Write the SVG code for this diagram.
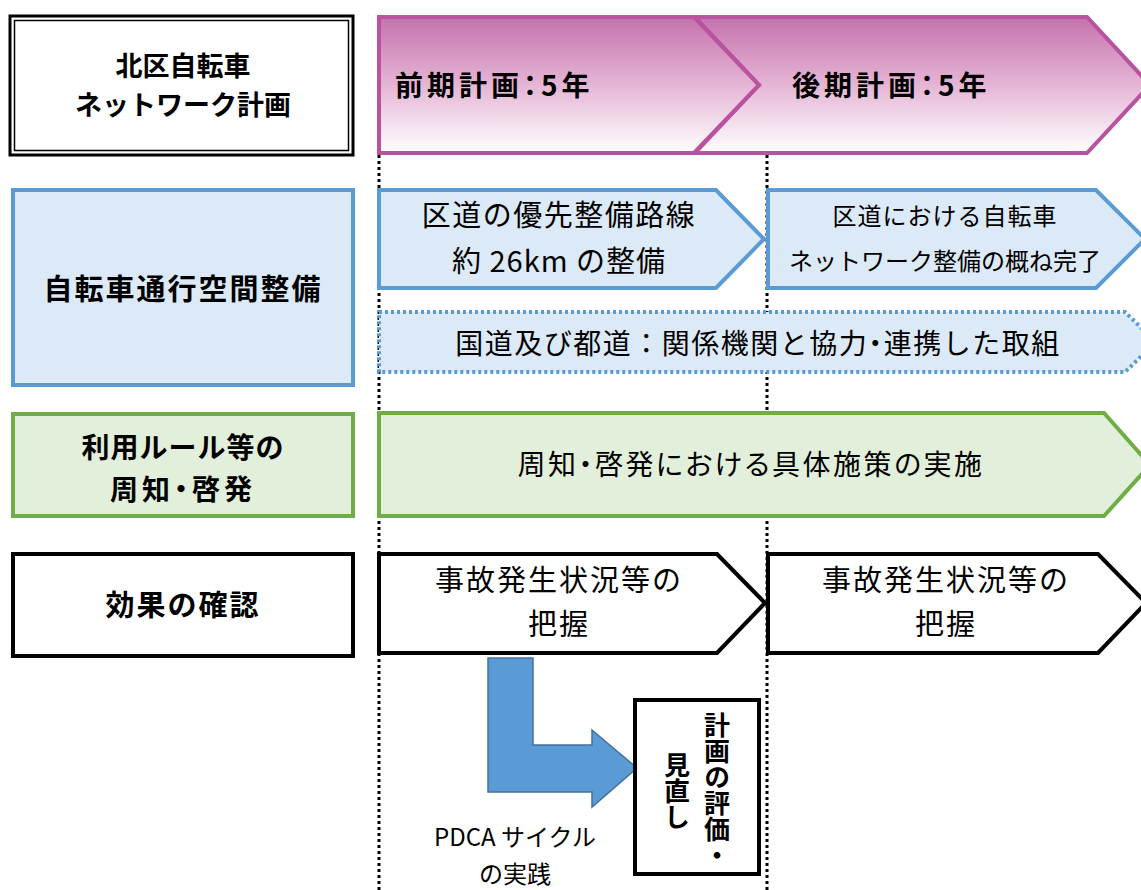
<svg xmlns="http://www.w3.org/2000/svg" width="1141" height="890" viewBox="0 0 1141 890">
<defs>
<linearGradient id="pg" x1="0" y1="0" x2="0" y2="1">
<stop offset="0" stop-color="#c572ad"/>
<stop offset="0.45" stop-color="#e2aed1"/>
<stop offset="1" stop-color="#ffffff"/>
</linearGradient>
<style>
text{font-family:"Noto Sans CJK JP","Noto Sans CJK SC",sans-serif;fill:#000}
.b{font-weight:bold}
.c{text-anchor:middle}
.p{font-feature-settings:"palt"}
.pur{fill:url(#pg);stroke:#b9529f;stroke-width:4;stroke-linejoin:miter}
.blu{fill:#dce9f6;stroke:#5b9bd5;stroke-width:4}
.dot{fill:#dce9f6;stroke:#5b9bd5;stroke-width:4;stroke-dasharray:3 3}
.grn{fill:#e2efda;stroke:#70ad47;stroke-width:4}
.blk{fill:#ffffff;stroke:#000;stroke-width:4}
.vl{stroke:#000;stroke-width:3;stroke-dasharray:3 3;fill:none}
</style>
</defs>
<rect width="1141" height="890" fill="#ffffff"/>

<g id="guides">
<line class="vl" x1="379" y1="155" x2="379" y2="890"/>
<line class="vl" x1="767" y1="155" x2="767" y2="890"/>
</g>

<g id="title">
<rect x="10" y="16" width="343" height="139" fill="#fff" stroke="#000" stroke-width="3"/>
<rect x="14.5" y="20.5" width="334" height="130" fill="none" stroke="#000" stroke-width="1.5"/>
<text class="b c" x="183" y="76" font-size="27">北区自転車</text>
<text class="b c" x="183" y="115" font-size="27">ネットワーク計画</text>
</g>

<g id="later-plan">
<path class="pur" d="M695,17 L1087,17 L1150,85 L1087,153 L695,153 L759,85 Z"/>
<text class="b p" x="792" y="96" font-size="28" letter-spacing="4">後期計画：5年</text>
</g>
<g id="early-plan">
<path class="pur" d="M379,17 L694,17 L759,85 L694,153 L379,153 Z"/>
<text class="b p" x="395" y="96" font-size="28" letter-spacing="4">前期計画：5年</text>
</g>

<g id="space-label">
<rect class="blu" x="13" y="190" width="340" height="195"/>
<text class="b c" x="183" y="300" font-size="29" letter-spacing="2">自転車通行空間整備</text>
</g>
<g id="space-early">
<path class="blu" d="M379,190 L716,190 L764,239 L716,288 L379,288 Z"/>
<text class="c" x="559" y="226" font-size="29" letter-spacing="1.5">区道の優先整備路線</text>
<text class="c" x="559" y="272" font-size="29" letter-spacing="1">約 26km の整備</text>
</g>
<g id="space-late">
<path class="blu" d="M768,190 L1096,190 L1145,239 L1096,288 L768,288 Z"/>
<text class="c" x="945" y="225" font-size="24" letter-spacing="1">区道における自転車</text>
<text class="c" x="945" y="270" font-size="24">ネットワーク整備の概ね完了</text>
</g>
<g id="space-national">
<path class="dot" d="M379,312 L1125,312 L1156,342 L1125,372 L379,372 Z"/>
<text class="c" x="758" y="354" font-size="28" letter-spacing="1.5">国道及び都道：関係機関と協力<tspan class="p">・</tspan>連携した取組</text>
</g>

<g id="rules-label">
<rect class="grn" x="13" y="414" width="340" height="102"/>
<text class="b c" x="183" y="458" font-size="28" letter-spacing="1">利用ルール等の</text>
<text class="b c p" x="183" y="500" font-size="28" letter-spacing="4">周知・啓発</text>
</g>
<g id="rules-body">
<path class="grn" d="M379,413 L1104,413 L1150,465 L1104,516 L379,516 Z"/>
<text class="c p" x="751" y="475" font-size="28" letter-spacing="2.5">周知・啓発における具体施策の実施</text>
</g>

<g id="effect-label">
<rect class="blk" x="13" y="554" width="340" height="102"/>
<text class="b c" x="183" y="616" font-size="29" letter-spacing="2">効果の確認</text>
</g>
<g id="effect-early">
<path class="blk" d="M379,554 L717,554 L765,603 L717,653 L379,653 Z"/>
<text class="c" x="559" y="591" font-size="29" letter-spacing="2">事故発生状況等の</text>
<text class="c" x="559" y="635" font-size="29" letter-spacing="2">把握</text>
</g>
<g id="effect-late">
<path class="blk" d="M768,554 L1098,554 L1146,603 L1098,653 L768,653 Z"/>
<text class="c" x="946" y="591" font-size="29" letter-spacing="2">事故発生状況等の</text>
<text class="c" x="946" y="635" font-size="29" letter-spacing="2">把握</text>
</g>

<g id="connectors">
<path d="M488,658 L533,658 L533,745 L592,745 L592,730 L637,768 L592,807 L592,792 L488,792 Z" fill="#5b9bd5" stroke="#41719c" stroke-width="1.5"/>
<text class="c" x="515" y="846" font-size="24">PDCA サイクル</text>
<text class="c" x="515" y="883" font-size="24">の実践</text>
</g>

<g id="review">
<rect x="635" y="700" width="124" height="174" fill="#fff" stroke="#000" stroke-width="4"/>
<text class="b" x="717" y="712" font-size="26" style="writing-mode:vertical-rl">計画の評価・</text>
<text class="b" x="677" y="752" font-size="26" style="writing-mode:vertical-rl">見直し</text>
</g>
</svg>
